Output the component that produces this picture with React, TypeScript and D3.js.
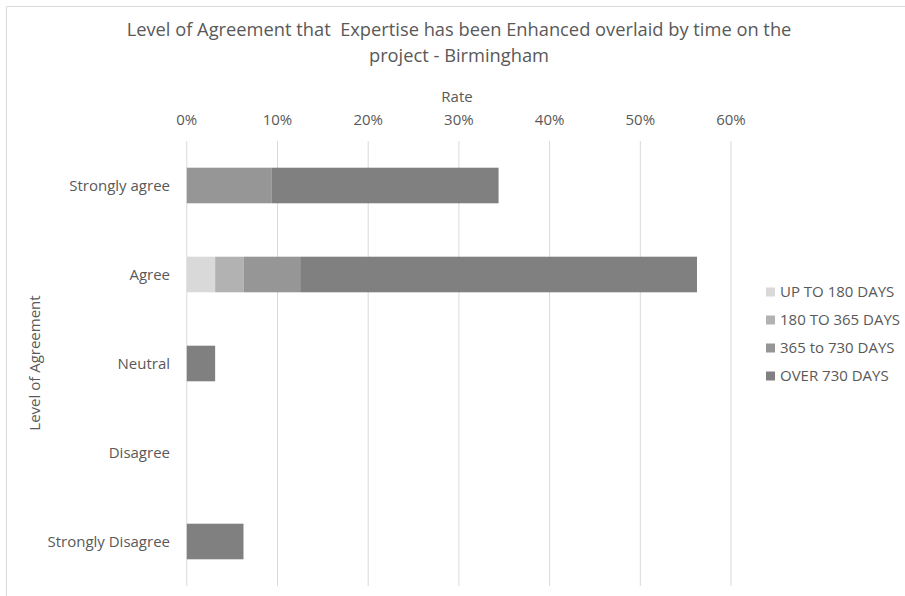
import React from "react";
import * as d3 from "d3";

const categories = ["Strongly agree", "Agree", "Neutral", "Disagree", "Strongly Disagree"];
const seriesNames = ["UP TO 180 DAYS", "180 TO 365 DAYS", "365 to 730 DAYS", "OVER 730 DAYS"];
const upTo180 = [0, 0.03125, 0, 0, 0];
const from180to365 = [0, 0.03125, 0, 0, 0];
const from365to730 = [0.09375, 0.0625, 0, 0, 0];
const over730 = [0.25, 0.4375, 0.03125, 0, 0.0625];
const xTicks = [0, 0.1, 0.2, 0.3, 0.4, 0.5, 0.6];
const colors = ["#d9d9d9", "#b2b2b2", "#969696", "#808080"];

const W = 905;
const H = 596;
const FONT = "'Open Sans', 'Noto Sans', sans-serif";
const TXT = "#595959";

export default function App() {
  const seriesValues = [upTo180, from180to365, from365to730, over730];
  const rows = categories.map((c, i) => {
    const r: any = { cat: c };
    seriesNames.forEach((s, j) => (r[s] = seriesValues[j][i]));
    return r;
  });
  const stacked = d3.stack<any>().keys(seriesNames)(rows);

  const x = d3.scaleLinear().domain([0, 0.6]).range([186.8, 731]);
  const y = d3.scaleBand().domain(categories).range([141, 586]).paddingInner(0.6).paddingOuter(0.3);

  return (
    <svg width={W} height={H} style={{ position: "absolute", left: 0, top: 0 }}>
      <rect x={0} y={0} width={W} height={H} fill="#fff" />
      <path d={`M6.5,${H} V6.5 H${W}`} fill="none" stroke="#d9d9d9" strokeWidth={1} />
      <text x={459} y={36} textAnchor="middle" fontFamily={FONT} fontSize={18.3} fill={TXT} style={{ whiteSpace: "pre" }}>
        {"Level of Agreement that  Expertise has been Enhanced overlaid by time on the"}
      </text>
      <text x={459} y={62} textAnchor="middle" fontFamily={FONT} fontSize={18.3} fill={TXT}>
        project - Birmingham
      </text>
      <text x={457} y={102} textAnchor="middle" fontFamily={FONT} fontSize={15} fill={TXT}>
        Rate
      </text>
      {xTicks.map((t) => (
        <g key={t}>
          <line x1={x(t)} x2={x(t)} y1={141} y2={586} stroke="#d9d9d9" strokeWidth={1} />
          <text x={x(t)} y={125} textAnchor="middle" fontFamily={FONT} fontSize={15} fill={TXT}>
            {d3.format(".0%")(t)}
          </text>
        </g>
      ))}
      {stacked.map((s, j) => (
        <g key={s.key} fill={colors[j]}>
          {s.map((d, i) =>
            d[1] - d[0] > 0 ? (
              <rect
                key={i}
                x={x(d[0])}
                y={y(categories[i])}
                width={x(d[1]) - x(d[0])}
                height={y.bandwidth()}
              />
            ) : null
          )}
        </g>
      ))}
      {categories.map((c) => (
        <text
          key={c}
          x={170}
          y={(y(c) as number) + y.bandwidth() / 2}
          dy="0.35em"
          textAnchor="end"
          fontFamily={FONT}
          fontSize={15}
          fill={TXT}
        >
          {c}
        </text>
      ))}
      <text
        transform="translate(35,363) rotate(-90)"
        textAnchor="middle"
        dy="0.35em"
        fontFamily={FONT}
        fontSize={15}
        fill={TXT}
      >
        Level of Agreement
      </text>
      {seriesNames.map((s, j) => (
        <g key={s} transform={`translate(766,${292 + j * 28})`}>
          <rect x={0} y={-4.5} width={9} height={9} fill={colors[j]} />
          <text x={14} y={0} dy="0.35em" fontFamily={FONT} fontSize={15} fill={TXT}>
            {s}
          </text>
        </g>
      ))}
    </svg>
  );
}
